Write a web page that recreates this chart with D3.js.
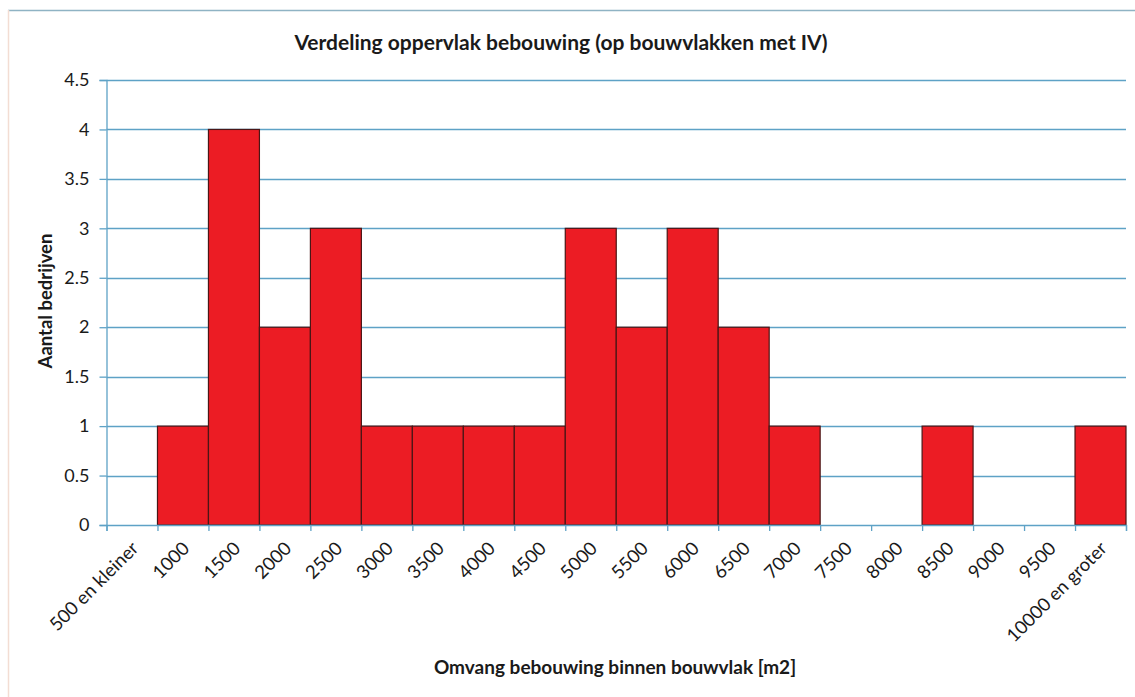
<!DOCTYPE html>
<html>
<head>
<meta charset="utf-8">
<script src="https://cdn.jsdelivr.net/npm/d3@7"></script>
<style>
  body { margin: 0; background: #fff; }
  svg text { font-family: Lato, "Open Sans", sans-serif; fill: #1a1a1a; }
</style>
</head>
<body>
<div id="chart"></div>
<script>
// categories and counts
var categories = ["500 en kleiner", "1000", "1500", "2000", "2500", "3000", "3500", "4000", "4500",
  "5000", "5500", "6000", "6500", "7000", "7500", "8000", "8500", "9000", "9500", "10000 en groter"];
var counts = [0, 1, 4, 2, 3, 1, 1, 1, 1, 3, 2, 3, 2, 1, 0, 0, 1, 0, 0, 1];
var yTicks = [0, 0.5, 1, 1.5, 2, 2.5, 3, 3.5, 4, 4.5];

var data = categories.map(function (c, i) { return { cat: c, n: counts[i] }; });

var W = 1135, H = 697;
var plotLeft = 106.5, plotRight = 1126, plotTop = 80, plotBottom = 525;

var svg = d3.select("#chart")
  .append("svg")
  .attr("width", W)
  .attr("height", H);

// frame lines
svg.append("line").attr("x1", 8).attr("x2", W).attr("y1", 10.5).attr("y2", 10.5)
  .attr("stroke", "#8fb3c4").attr("stroke-width", 1.5);
svg.append("line").attr("x1", 8.5).attr("x2", 8.5).attr("y1", 10).attr("y2", H)
  .attr("stroke", "#f3ddd3").attr("stroke-width", 1.5);

var x = d3.scaleBand()
  .domain(categories)
  .range([plotLeft, plotRight])
  .padding(0);

var xi = d3.scaleLinear()
  .domain([0, categories.length])
  .range([plotLeft, plotRight]);

var y = d3.scaleLinear()
  .domain([0, 4.5])
  .range([plotBottom, plotTop]);

var gridColor = "#5ea2c6";

// gridlines
svg.append("g")
  .selectAll("line")
  .data(yTicks.slice(1))
  .enter()
  .append("line")
    .attr("x1", plotLeft)
    .attr("x2", plotRight)
    .attr("y1", function (d) { return Math.round(y(d)) + 0.5; })
    .attr("y2", function (d) { return Math.round(y(d)) + 0.5; })
    .attr("stroke", gridColor)
    .attr("stroke-width", 1.3);

// bars
svg.append("g")
  .selectAll("rect")
  .data(data.filter(function (d) { return d.n > 0; }))
  .enter()
  .append("rect")
    .attr("x", function (d) { return x(d.cat); })
    .attr("y", function (d) { return y(d.n); })
    .attr("width", x.bandwidth())
    .attr("height", function (d) { return plotBottom - y(d.n); })
    .style("fill", "#ec1c24")
    .style("stroke", "#4a1616")
    .style("stroke-width", 1.2);

// y axis
var yAxis = svg.append("g")
  .attr("transform", "translate(" + plotLeft + ",0)")
  .call(d3.axisLeft(y).tickValues(yTicks).tickSize(7).tickPadding(10)
    .tickFormat(function (d) { return String(d); }));
yAxis.select(".domain").attr("stroke", gridColor).attr("stroke-width", 1.3);
yAxis.selectAll(".tick line").attr("stroke", gridColor).attr("stroke-width", 1.3);
yAxis.selectAll(".tick text")
  .style("font-size", "18px")
  .attr("fill", "#1a1a1a");

// x axis: ticks on the category boundaries
var xAxis = svg.append("g")
  .attr("transform", "translate(0," + plotBottom + ")")
  .call(d3.axisBottom(xi).tickValues(d3.range(categories.length + 1)).tickSize(6).tickFormat(""));
xAxis.select(".domain").attr("stroke", gridColor).attr("stroke-width", 1.3);
xAxis.selectAll(".tick line").attr("stroke", gridColor).attr("stroke-width", 1.3);

// rotated category labels
svg.append("g")
  .selectAll("text")
  .data(categories)
  .enter()
  .append("text")
    .attr("transform", function (d) {
      return "translate(" + (x(d) + x.bandwidth() / 2 + 3) + "," + (plotBottom + 20) + ") rotate(-45)";
    })
    .attr("text-anchor", "end")
    .attr("dy", "0.35em")
    .style("font-size", "18.5px")
    .text(function (d) { return d; });

// title
svg.append("text")
  .attr("x", 561)
  .attr("y", 50)
  .attr("text-anchor", "middle")
  .style("font-size", "21px")
  .style("font-weight", "bold")
  .text("Verdeling oppervlak bebouwing (op bouwvlakken met IV)");

// axis titles
svg.append("text")
  .attr("x", 615)
  .attr("y", 674)
  .attr("text-anchor", "middle")
  .style("font-size", "19px")
  .style("font-weight", "bold")
  .text("Omvang bebouwing binnen bouwvlak [m2]");

svg.append("text")
  .attr("transform", "translate(52,301) rotate(-90)")
  .attr("text-anchor", "middle")
  .style("font-size", "18.5px")
  .style("font-weight", "bold")
  .text("Aantal bedrijven");
</script>
</body>
</html>
